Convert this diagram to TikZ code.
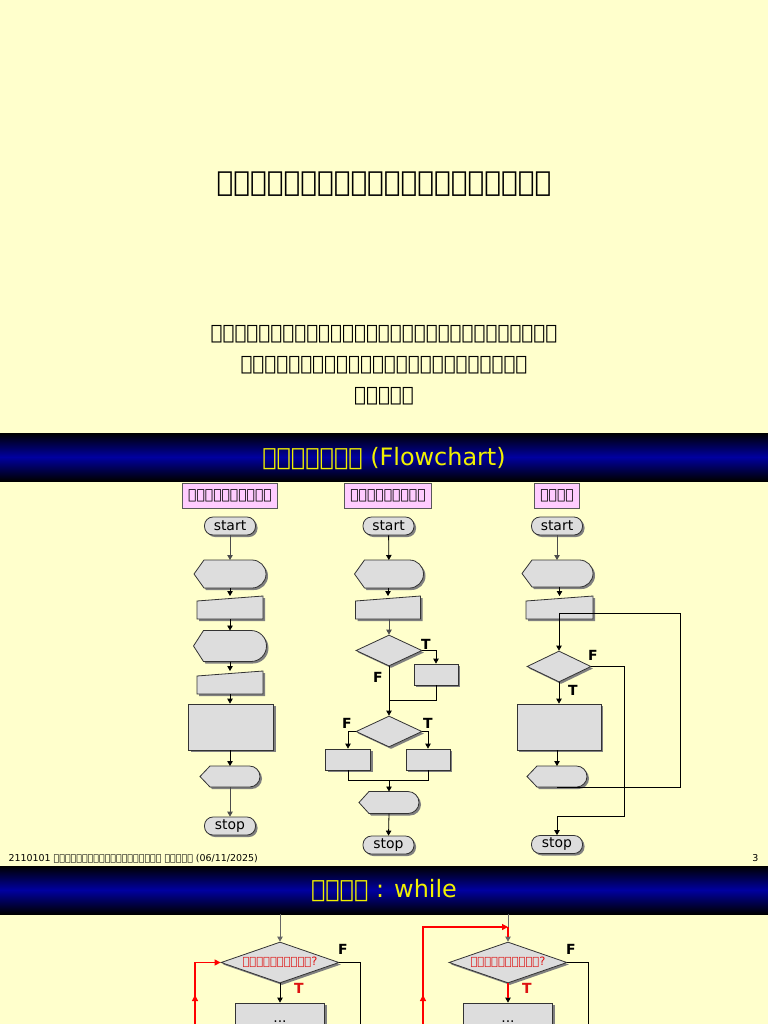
\documentclass[tikz,border=0pt]{standalone}
\usepackage{fontspec}
\setmainfont{DejaVu Sans}
\usetikzlibrary{arrows.meta,shapes.geometric,shadows,decorations.markings}
\definecolor{bgyellow}{HTML}{FFFFCC}
\definecolor{shapegray}{HTML}{DDDDDD}
\definecolor{pinkbox}{HTML}{FFCCFF}
\definecolor{hdrblue}{HTML}{0000A0}
\definecolor{hdryellow}{HTML}{F0F000}
\definecolor{lblred}{HTML}{DD1111}
\newcount\tofucnt
\newcommand\tofu[1]{\tofucnt=#1\relax\loop\ifnum\tofucnt>0 \XeTeXglyph0\relax\advance\tofucnt by -1\relax\repeat}
\tikzset{
  hold/.style={rectangle, draw=none, inner sep=0pt, outer sep=0pt},
  shp/.style={draw=black!80, fill=shapegray, line width=0.8bp,
    drop shadow={shadow xshift=2bp, shadow yshift=-2bp, fill=black!50, opacity=1}},
  term/.style={rectangle, rounded corners=8.5bp, shp, minimum width=51bp, minimum height=18bp,
    inner sep=0pt, font=\fontsize{14}{14}\selectfont},
  proc/.style={rectangle, shp, inner sep=0pt},
  dec/.style={diamond, shp, inner sep=0pt, aspect=2.88},
  cat/.style={rectangle, draw=black!65, fill=pinkbox, line width=0.8bp, minimum height=25bp,
    inner xsep=6bp, font=\fontsize{14}{14}\selectfont},
  arr/.style={-{Triangle[length=5bp,width=5.5bp]}, line width=0.8bp, draw=black},
  ln/.style={line width=0.8bp, draw=black},
  redln/.style={line width=1.3bp, draw=red},
  lab/.style={font=\bfseries\fontsize{14}{14}\selectfont},
  redlab/.style={font=\bfseries\fontsize{14}{14}\selectfont, text=lblred},
  dots/.style={anchor=base, inner sep=0pt, outer sep=0pt, font=\fontsize{14}{14}\selectfont},
}
% display shape: name, cx, cy, w, h
\newcommand\dispshape[5]{%
  \node[hold, minimum width=#4bp, minimum height=#5bp] (#1) at (#2,#3) {};
  \draw[shp] ({#2-#4/2},#3) -- ({#2-#4/2+10},{#3-#5/2}) -- ({#2+#4/2-#5/2},{#3-#5/2})
    .. controls ({#2+#4/2-#5/2+0.552*#5/2},{#3-#5/2}) and ({#2+#4/2},{#3-0.552*#5/2}) .. ({#2+#4/2},#3)
    .. controls ({#2+#4/2},{#3+0.552*#5/2}) and ({#2+#4/2-#5/2+0.552*#5/2},{#3+#5/2}) .. ({#2+#4/2-#5/2},{#3+#5/2})
    -- ({#2-#4/2+10},{#3+#5/2}) -- cycle;
}
% manual input shape: name, cx, cy, w, h
\newcommand\manshape[5]{%
  \node[hold, minimum width=#4bp, minimum height=#5bp] (#1) at (#2,#3) {};
  \draw[shp] ({#2-#4/2},{#3-#5/2+5}) -- ({#2+#4/2},{#3-#5/2}) -- ({#2+#4/2},{#3+#5/2})
    -- ({#2-#4/2},{#3+#5/2}) -- cycle;
}
\begin{document}
\begin{tikzpicture}[x=1bp, y=-1bp]
\useasboundingbox (0,0) rectangle (768,1024);
\clip (0,0) rectangle (768,1024);
\fill[bgyellow] (0,0) rectangle (768,1024);
% header bars
\shade[top color=black, bottom color=black, middle color=hdrblue] (0,433) rectangle (768,481);
\shade[top color=black, bottom color=black, middle color=hdrblue] (0,866) rectangle (768,914);

% ---- title slide
\node[font=\fontsize{28}{34}\selectfont] (title) at (384,184) {\tofu{20}};
\node[font=\fontsize{20}{31}\selectfont, align=center] (sub) at (384,365) {\tofu{29}\\\tofu{24}\\\tofu{5}};

% ---- flowchart slide
\node[font=\fontsize{24}{30}\selectfont, text=hdryellow] (h1) at (384,459) {\tofu{7} (Flowchart)};
\node[cat] (k1) at (230,495.5) {\tofu{10}};
\node[cat] (k2) at (388,495.5) {\tofu{9}};
\node[cat] (k3) at (557,495.5) {\tofu{4}};

% column 1: sequence
\node[term] (c1s) at (230,526) {start};
\dispshape{c1d1}{230}{574}{72}{28}
\manshape{c1m1}{230}{607.5}{66}{23}
\dispshape{c1d2}{230}{646}{73}{31}
\manshape{c1m2}{230}{682.5}{66}{23}
\node[proc, minimum width=85bp, minimum height=46bp] (c1p) at (231,727) {};
\dispshape{c1d3}{230}{776.5}{60}{21}
\node[term] (c1e) at (230,826) {stop};
\draw[arr, draw=black!70] (c1s) -- (c1d1);
\draw[arr] (c1d1) -- (c1m1);
\draw[arr] (c1m1) -- (c1d2);
\draw[arr] (c1d2) -- (c1m2);
\draw[arr] (c1m2.south) -- (c1m2.south |- c1p.north);
\draw[arr] (c1p.south -| c1d3.north) -- (c1d3.north);
\draw[arr, draw=black!70] (c1d3) -- (c1e);

% column 2: selection
\node[term] (c2s) at (388.5,526) {start};
\dispshape{c2d1}{389}{574}{69}{28}
\manshape{c2m1}{388}{607.5}{65}{23}
\node[dec, aspect=2.1, minimum width=66bp, minimum height=31bp] (c2q1) at (389,650.5) {};
\node[proc, minimum width=44bp, minimum height=21bp] (c2b1) at (436,674.5) {};
\node[dec, aspect=2.1, minimum width=66bp, minimum height=31bp] (c2q2) at (389,731.5) {};
\node[proc, minimum width=45bp, minimum height=21bp] (c2b2) at (348,759.5) {};
\node[proc, minimum width=44bp, minimum height=21bp] (c2b3) at (428,759.5) {};
\dispshape{c2d2}{389}{802.5}{60}{22}
\node[term] (c2e) at (388.5,845) {stop};
\coordinate (c2j1) at (389,700);
\coordinate (c2j2) at (389,780);
\draw[arr] (c2s) -- (c2d1);
\draw[arr] (c2d1.south -| c2m1.north) -- (c2m1.north);
\draw[arr, draw=black!70] (c2m1.south -| c2q1.north) -- (c2q1.north);
\draw[arr] (c2q1.east) -| (c2b1.north);
\draw[arr] (c2q1.south) -- (c2q2.north);
\draw[ln] (c2b1.south) |- (c2j1);
\draw[arr] (c2q2.west) -| (c2b2.north);
\draw[arr] (c2q2.east) -| (c2b3.north);
\draw[ln] (c2b2.south) |- (c2j2);
\draw[ln] (c2b3.south) |- (c2j2);
\draw[arr] (c2j2) -- (c2d2.north);
\draw[arr] (c2d2.south) -- (c2e.north);
\node[lab] (t21) at (426,644) {T};
\node[lab] (f21) at (378,677) {F};
\node[lab] (f22) at (347,723) {F};
\node[lab] (t22) at (428,723) {T};

% column 3: repetition
\node[term] (c3s) at (557,526) {start};
\dispshape{c3d1}{557.5}{573.5}{71}{27}
\manshape{c3m1}{559.5}{607.5}{67}{23}
\node[dec, aspect=2.1, minimum width=64bp, minimum height=31bp] (c3q) at (559,666.5) {};
\node[proc, minimum width=84bp, minimum height=46bp] (c3p) at (559,727) {};
\dispshape{c3d2}{557}{776.5}{60}{21}
\node[term] (c3e) at (557,844.5) {stop};
\coordinate (c3j) at (559,613);
\coordinate (c3r) at (680,613);
\coordinate (c3f) at (624,816);
\draw[arr, draw=black!70] (c3s) -- (c3s |- c3d1.north);
\draw[arr] (c3d1.south -| c3m1.north) -- (c3m1.north);
\draw[ln] (c3d2.south) -| (c3r) -- (c3j);
\draw[arr] (c3j) -- (c3q.north);
\draw[arr] (c3q.east) -| (c3f) -| (c3e.north);
\draw[arr] (c3q.south) -- (c3p.north);
\draw[arr] (c3p.south -| c3d2.north) -- (c3d2.north);
\node[lab] (f3) at (593,655) {F};
\node[lab] (t3) at (573,690) {T};

% footer
\node[anchor=base west, font=\fontsize{9.5}{11}\selectfont] (foot) at (5,861) {2110101 \tofu{19} \tofu{5} (06/11/2025)};
\node[anchor=base east, font=\fontsize{9.5}{11}\selectfont] (pg) at (762,861) {3};

% ---- while slide
\node[font=\fontsize{24}{30}\selectfont, text=hdryellow] (h2) at (384,891) {\tofu{4} : while};

% left diagram
\coordinate (w1top) at (280,914);
\node[dec, minimum width=118bp, minimum height=41bp, text=lblred, font=\fontsize{11.5}{12}\selectfont] (w1q) at (280,962.5) {\tofu{10}?};
\node[proc, minimum width=89bp, minimum height=60bp] (w1b) at (280,1033) {};
\node[dots] (w1dots) at (280,1022) {...};
\coordinate (w1f) at (360,1030);
\coordinate (w1l) at (195,1030);
\draw[arr, draw=black!60] (w1top) -- (w1q.north);
\draw[ln] (w1q.east) -| (w1f);
\draw[arr] (w1q.south) -- (w1b.north);
\draw[redln, -{Triangle[length=6bp,width=6bp]}, postaction={decorate},
  decoration={markings, mark=at position 35bp with {\arrow{Triangle[length=6bp,width=6bp]}}}]
  (w1l) |- (w1q.west);
\node[lab] (wf1) at (343,949) {F};
\node[redlab] (wt1) at (299,988) {T};

% right diagram
\coordinate (w2top) at (508,914);
\coordinate (w2c) at (508,927);
\node[dec, minimum width=118bp, minimum height=41bp, text=lblred, font=\fontsize{11.5}{12}\selectfont] (w2q) at (508,962.5) {\tofu{10}?};
\node[proc, minimum width=89bp, minimum height=60bp] (w2b) at (508,1033) {};
\node[dots] (w2dots) at (508,1022) {...};
\coordinate (w2f) at (588,1030);
\coordinate (w2l) at (423,1030);
\draw[arr, draw=black!60] (w2top) -- (w2q.north);
\draw[ln] (w2q.east) -| (w2f);
\draw[arr] (w2q.south) -- (w2b.north);
\draw[redln, shorten >=5bp] (w2c) -- (w2q.north);
\draw[redln, shorten >=5bp] (w2q.south) -- (w2b.north);
\draw[redln, -{Triangle[length=6bp,width=6bp]}, postaction={decorate},
  decoration={markings, mark=at position 35bp with {\arrow{Triangle[length=6bp,width=6bp]}}}]
  (w2l) |- (w2c);
\node[lab] (wf2) at (571,949) {F};
\node[redlab] (wt2) at (527,988) {T};
\end{tikzpicture}
\end{document}
